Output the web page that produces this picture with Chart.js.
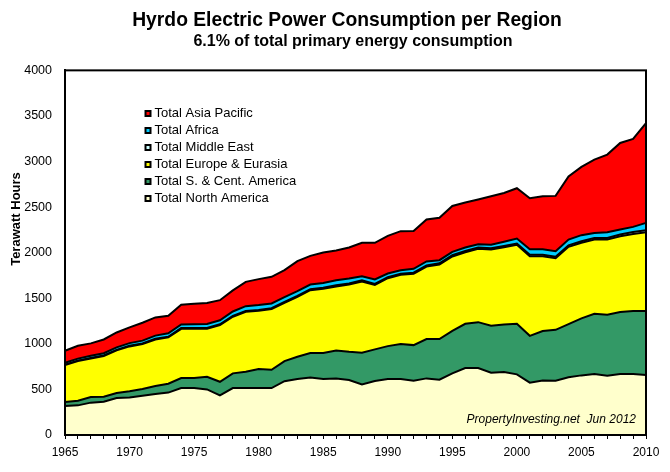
<!DOCTYPE html>
<html><head><meta charset="utf-8">
<script src="https://cdn.jsdelivr.net/npm/chart.js@4/dist/chart.umd.js"></script>
<style>html,body{margin:0;padding:0;background:#fff}#w{width:670px;height:472px;position:relative}canvas{display:block}</style>
</head><body><div id="w"><canvas id="c" width="670" height="472"></canvas></div>
<script>
const years=[1965,1966,1967,1968,1969,1970,1971,1972,1973,1974,1975,1976,1977,1978,1979,1980,1981,1982,1983,1984,1985,1986,1987,1988,1989,1990,1991,1992,1993,1994,1995,1996,1997,1998,1999,2000,2001,2002,2003,2004,2005,2006,2007,2008,2009,2010];
const northAmerica=[318,325,355,365,405,412,430,450,465,515,515,500,435,515,515,515,515,590,615,630,615,621,603,555,592,614,614,596,621,606,676,734,734,683,690,665,574,599,596,633,654,668,650,668,668,657];
const southCentAmerica=[44,51,61,55,55,67,74,87,97,110,110,139,149,161,179,208,201,221,243,269,284,307,310,347,347,361,383,390,431,446,467,486,504,515,523,555,514,541,558,583,625,662,668,680,691,702];
const europeEurasia=[405,435,424,446,468,493,493,511,509,540,540,526,621,621,657,639,665,639,658,690,705,702,737,782,706,745,760,782,796,818,815,785,804,837,847,866,874,822,786,848,829,814,826,833,847,866];
const middleEast=[5,5,5,6,6,6,7,7,7,8,8,8,9,9,10,10,10,10,10,10,11,12,12,12,12,12,12,12,12,13,14,14,14,14,14,14,14,15,15,16,18,18,18,18,20,22];
const africa=[20,22,24,25,27,30,31,35,37,40,42,44,45,49,52,54,52,52,52,52,53,56,55,46,49,39,39,43,44,35,37,38,37,37,45,55,62,61,61,64,66,55,63,55,57,80];
const asiaPacific=[132,141,136,151,164,172,196,200,193,215,224,230,220,231,267,284,292,296,329,314,334,326,340,366,402,413,428,416,460,464,504,493,490,533,536,552,559,581,607,691,749,804,851,950,964,1095];
const titleText="Hyrdo Electric Power Consumption per Region";
const subtitleText="6.1% of total primary energy consumption";
const yTitle="Terawatt Hours";
const credit="PropertyInvesting.net  Jun 2012";
const FONT="'Liberation Sans', Arial, sans-serif";
const ds=(label,data,color,fill)=>({label,data,backgroundColor:color,borderColor:'#000',borderWidth:2,fill,pointRadius:0,pointHoverRadius:0,tension:0,borderJoinStyle:'miter'});
const decor={id:'decor',
 afterLayout(chart){
  chart.boxes.forEach(b=>{if(b.options&&b.options.text&&b.options.position==='top'){b.left=b.options.text===titleText?48:60;}});
  const l=chart.legend;
  if(l.columnSizes&&l.columnSizes.length){l.left=144;l.top=103;l.bottom=103+l.height;l.adjustHitBoxes();}
 },
 afterDatasetsDraw(chart){
  const a=chart.chartArea,x=chart.ctx;
  x.save();
  x.strokeStyle='#000';x.lineWidth=2;x.strokeRect(a.left,a.top,a.right-a.left,a.bottom-a.top);
  x.fillStyle='#000';x.font="italic 12px "+FONT;x.textAlign='right';x.textBaseline='alphabetic';
  x.fillText(credit,636,423);
  x.translate(20,219);x.rotate(-Math.PI/2);x.font="bold 13px "+FONT;x.textAlign='center';
  x.fillText(yTitle,0,0);
  x.restore();
 }};
new Chart(document.getElementById('c'),{type:'line',
 data:{labels:years,datasets:[
  ds('Total North America',northAmerica,'#FFFFCC','origin'),
  ds('Total S. & Cent. America',southCentAmerica,'#339966','-1'),
  ds('Total Europe & Eurasia',europeEurasia,'#FFFF00','-1'),
  ds('Total Middle East',middleEast,'#CCFFFF','-1'),
  ds('Total Africa',africa,'#00CCFF','-1'),
  ds('Total Asia Pacific',asiaPacific,'#FF0000','-1')]},
 options:{responsive:false,animation:false,devicePixelRatio:1,
  layout:{padding:{left:0,right:24,top:9,bottom:0}},
  plugins:{
   tooltip:{enabled:false},
   title:{display:true,text:titleText,color:'#000',font:{family:FONT,size:19.3,weight:'bold'},padding:{top:0,bottom:0}},
   subtitle:{display:true,text:subtitleText,color:'#000',font:{family:FONT,size:16,weight:'bold'},padding:{top:0,bottom:19}},
   legend:{display:true,position:'chartArea',align:'start',reverse:true,
    labels:{color:'#000',font:{family:FONT,size:13},usePointStyle:true,pointStyle:'rect',boxWidth:0.01,boxHeight:5,padding:4}}
  },
  scales:{
   x:{type:'category',offset:false,
    afterFit(s){s.height=37;},
    grid:{display:true,drawOnChartArea:false,color:'#000',lineWidth:1,tickLength:4,tickColor:'#000'},
    border:{display:true,color:'#000',width:2},
    ticks:{autoSkip:false,maxRotation:0,minRotation:0,color:'#000',font:{family:FONT,size:12},padding:6,
     callback(v){const y=years[v];return y%5===0?String(y):'';}}},
   y:{stacked:true,min:0,max:4000,
    afterFit(s){s.width=65;},
    grid:{display:false,drawTicks:false},
    border:{display:true,color:'#000',width:2},
    ticks:{stepSize:500,color:'#000',font:{family:FONT,size:12.5},padding:13,callback(v){return String(v);}}}
  }},
 plugins:[decor]});
</script></body></html>
